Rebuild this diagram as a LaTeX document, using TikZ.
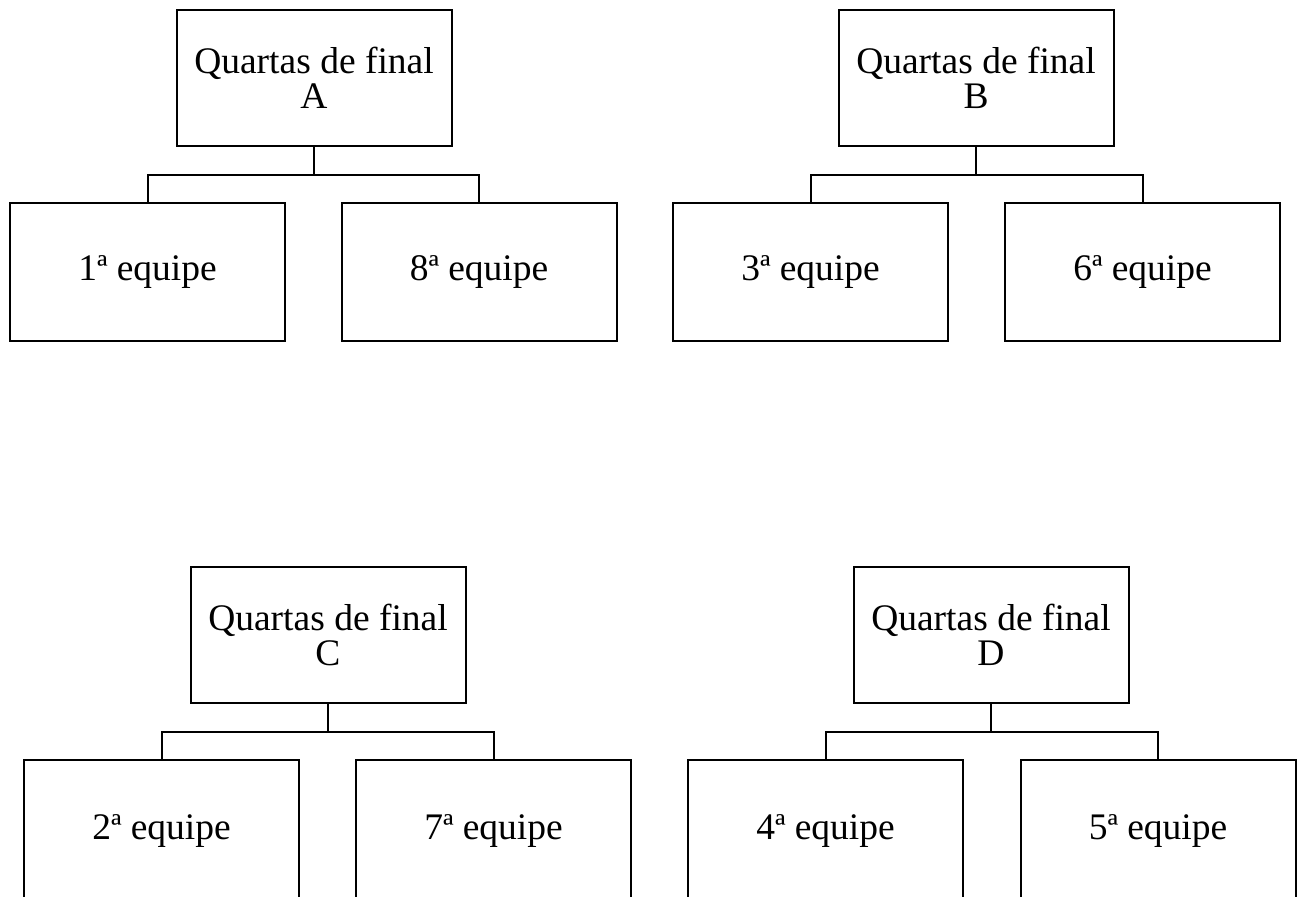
\documentclass[tikz,border=0pt]{standalone}
\usepackage{fontspec}
\setmainfont{Liberation Serif}
\usetikzlibrary{positioning}

\tikzset{
  box/.style={draw=black, line width=2pt, rectangle, align=center,
              minimum width=275pt, inner sep=0pt,
              font=\fontsize{37.5}{35}\selectfont},
  headbox/.style={box, minimum height=136pt},
  teambox/.style={box, minimum height=138pt},
  link/.style={draw=black, line width=2pt}
}

\begin{document}
\begin{tikzpicture}[x=1pt, y=-1pt]
  \useasboundingbox (0,0) rectangle (1302,897);
  \clip (0,0) rectangle (1302,897);

  % Bracket A
  \node[headbox] (qa) at (314,78) {Quartas de final\\A};
  \node[teambox] (t1) at (147.5,272) {1ª equipe};
  \node[teambox] (t8) at (479,272) {8ª equipe};
  \draw[link] (qa.south) -- ++(0,28) coordinate (ja);
  \draw[link] (t1.north) |- (ja) -| (t8.north);

  % Bracket B
  \node[headbox] (qb) at (976,78) {Quartas de final\\B};
  \node[teambox] (t3) at (810.5,272) {3ª equipe};
  \node[teambox] (t6) at (1142.5,272) {6ª equipe};
  \draw[link] (qb.south) -- ++(0,28) coordinate (jb);
  \draw[link] (t3.north) |- (jb) -| (t6.north);

  % Bracket C
  \node[headbox] (qc) at (328,635) {Quartas de final\\C};
  \node[teambox, minimum height=142pt] (t2) at (161.5,831) {2ª equipe};
  \node[teambox, minimum height=142pt] (t7) at (493.5,831) {7ª equipe};
  \draw[link] (qc.south) -- ++(0,28) coordinate (jc);
  \draw[link] (t2.north) |- (jc) -| (t7.north);

  % Bracket D
  \node[headbox] (qd) at (991,635) {Quartas de final\\D};
  \node[teambox, minimum height=142pt] (t4) at (825.5,831) {4ª equipe};
  \node[teambox, minimum height=142pt] (t5) at (1158,831) {5ª equipe};
  \draw[link] (qd.south) -- ++(0,28) coordinate (jd);
  \draw[link] (t4.north) |- (jd) -| (t5.north);
\end{tikzpicture}
\end{document}
